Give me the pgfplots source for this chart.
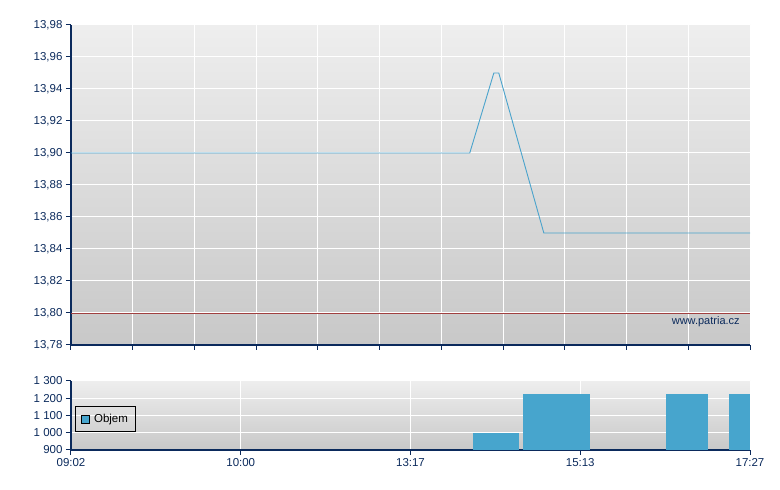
\documentclass[border=0pt]{standalone}
\usepackage{fontspec}
\setmainfont{Liberation Sans}
\usepackage{pgfplots}
\pgfplotsset{compat=1.18}
\definecolor{navy}{HTML}{0B2A5C}
\definecolor{linecol}{HTML}{4AA3CC}
\definecolor{barcol}{HTML}{47A5CD}
\definecolor{bgtop}{HTML}{EEEEEE}
\definecolor{bgbot}{HTML}{C8C8C8}
\definecolor{refline}{HTML}{A04040}
\begin{document}
\begin{tikzpicture}[font=\fontsize{11.5}{13}\selectfont]
\path[use as bounding box] (0,0) rectangle (780pt,490pt);
\pgfplotsset{
  myaxis/.style={
    scale only axis, width=679pt,
    xmin=0, xmax=11,
    axis x line*=bottom, axis y line*=left,
    axis line style={navy, line width=1.3pt, -},
    every tick/.style={navy, line width=1pt},
    tick align=outside, major tick length=5pt,
    tick label style={text=navy},
    /pgf/number format/assume math mode=true,
    grid=major, major grid style={white, line width=1pt},
    axis background/.style={shade, top color=bgtop, bottom color=bgbot},
    axis on top=false,
  }
}
\begin{axis}[myaxis, at={(71pt,145pt)}, anchor=south west, height=320pt,
  ymin=13.78, ymax=13.98,
  ytick={13.78,13.80,...,13.99},
  yticklabel style={/pgf/number format/.cd, use comma, fixed, fixed zerofill, precision=2},
  xtick={0,1,...,11}, xticklabels={},
]
\addplot[refline, line width=0.7pt] coordinates {(0,13.80) (11,13.80)};
\addplot[linecol, line width=0.9pt] coordinates {
  (0,13.90) (6.46,13.90) (6.85,13.95) (6.93,13.95) (7.66,13.85) (11,13.85)};
\node[anchor=south east, text=navy, font=\fontsize{11}{12}\selectfont] at (rel axis cs:0.99,0.045) {www.patria.cz};
\end{axis}
\begin{axis}[myaxis, at={(71pt,40pt)}, anchor=south west, height=69pt,
  ymin=900, ymax=1300,
  ytick={900,1000,1100,1200,1300},
  yticklabel style={/pgf/number format/.cd, 1000 sep={\ }},
  xtick={0,2.75,5.5,8.25,11},
  xticklabels={09:02,10:00,13:17,15:13,17:27},
  legend style={at={(rel axis cs:0.006,0.45)}, anchor=west, draw=black, fill=none,
    font=\fontsize{11.5}{13}\selectfont, inner xsep=6pt, inner ysep=7pt,
    line width=0.8pt, nodes={inner sep=1pt},
    /tikz/every odd column/.append style={column sep=3pt}},
  legend cell align=left,
]
\addplot[fill=barcol, draw=none, area legend,
  legend image code/.code={\draw[fill=barcol, draw=black, line width=0.6pt] (0,-4pt) rectangle (8pt,4pt);}]
  coordinates {(6.51,900) (6.51,1000) (7.26,1000) (7.26,900)} -- cycle;
\addlegendentry{Objem}
\addplot[fill=barcol, draw=none, forget plot] coordinates {(7.32,900) (7.32,1225) (8.41,1225) (8.41,900)} -- cycle;
\addplot[fill=barcol, draw=none, forget plot] coordinates {(9.64,900) (9.64,1225) (10.32,1225) (10.32,900)} -- cycle;
\addplot[fill=barcol, draw=none, forget plot] coordinates {(10.66,900) (10.66,1225) (11,1225) (11,900)} -- cycle;
\end{axis}
\end{tikzpicture}
\end{document}
